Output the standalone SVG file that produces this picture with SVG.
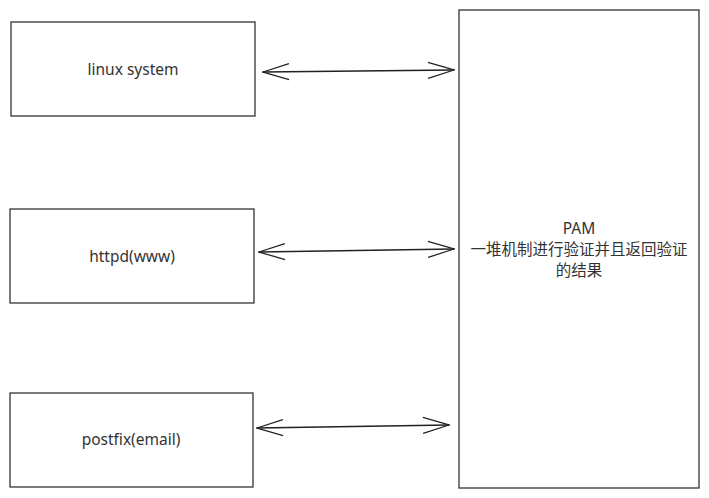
<svg xmlns="http://www.w3.org/2000/svg" width="709" height="498" viewBox="0 0 709 498">
<style>
.box{fill:#fff;stroke:#333;stroke-width:1.3}
.t{font-family:"Noto Sans","Noto Sans CJK SC",sans-serif;font-size:15.5px;fill:#333;text-anchor:middle}
.c{fill:none;stroke:#222;stroke-width:1.3;stroke-linecap:round}
</style>
<defs>
<marker id="ah" viewBox="0 0 30 20" refX="29" refY="10" markerWidth="30" markerHeight="20" markerUnits="userSpaceOnUse" orient="auto-start-reverse">
<path d="M3,2 L29,10 L3,18" fill="none" stroke="#222" stroke-width="1.3"/>
</marker>
</defs>
<rect width="709" height="498" fill="#fff"/>
<g id="linux"><rect class="box" x="11" y="22" width="244" height="94"/><text class="t" x="133" y="75">linux system</text></g>
<g id="httpd"><rect class="box" x="10" y="209" width="244" height="94"/><text class="t" x="132" y="262">httpd(www)</text></g>
<g id="postfix"><rect class="box" x="10" y="393" width="243" height="94"/><text class="t" x="131" y="445">postfix(email)</text></g>
<g id="pam"><rect class="box" x="459" y="10" width="240" height="478"/>
<text class="t" x="579" y="234">PAM</text>
<text class="t" x="579" y="255">一堆机制进行验证并且返回验证</text>
<text class="t" x="579" y="276">的结果</text></g>
<g id="connectors">
<line class="c" x1="263" y1="72" x2="454" y2="70" marker-start="url(#ah)" marker-end="url(#ah)"/>
<line class="c" x1="259" y1="252" x2="454" y2="249" marker-start="url(#ah)" marker-end="url(#ah)"/>
<line class="c" x1="257" y1="428" x2="449" y2="425" marker-start="url(#ah)" marker-end="url(#ah)"/>
</g>
</svg>
